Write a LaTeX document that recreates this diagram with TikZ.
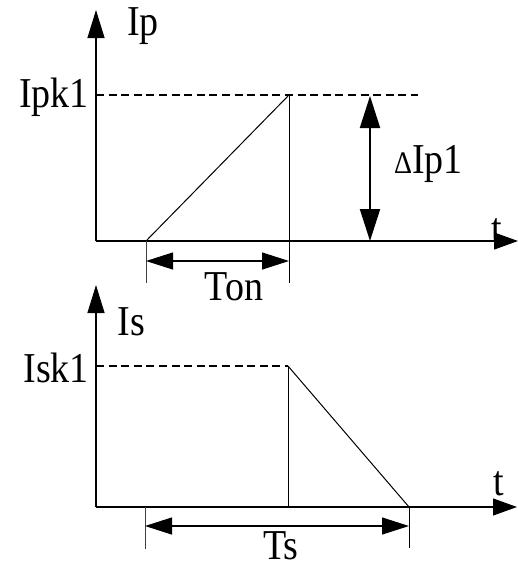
\documentclass[tikz,border=0pt]{standalone}
\usepackage{fontspec}
\setmainfont{Liberation Serif}
\usetikzlibrary{arrows.meta}
\newcommand{\lbl}[1]{\scalebox{1}[1.12]{#1}}
\begin{document}
\begin{tikzpicture}[x=0.5pt,y=-0.5pt,
  every node/.style={inner sep=0pt,outer sep=0pt,font=\fontsize{19}{21}\selectfont},
  axisline/.style={line width=0.6pt},
  yaxisarrow/.style={axisline,-{Triangle[length=14pt,width=8.5pt]}},
  xaxisarrow/.style={axisline,-{Triangle[length=12pt,width=8.5pt]}},
  curve/.style={line width=0.5pt},
  levelline/.style={line width=0.6pt,dash pattern=on 4pt off 2.3pt},
  tickline/.style={line width=0.5pt,black!75},
  dimarrow/.style={line width=0.6pt,{Triangle[length=13.5pt,width=8.5pt]}-{Triangle[length=13.5pt,width=8.5pt]}},
  bigarrow/.style={line width=1pt,{Triangle[length=16pt,width=10pt]}-{Triangle[length=16pt,width=10pt]}}]
\useasboundingbox (0,0) rectangle (518,569);
% ---------- top graph ----------
\coordinate (O1) at (96,241);
\coordinate (Y1) at (96,10);
\coordinate (X1) at (518,241);
\coordinate (R0) at (146,241);
\coordinate (R1) at (289,95);
\coordinate (R1b) at (289,283);
\coordinate (D1a) at (96,95);
\coordinate (D1b) at (418,95);
\coordinate (T0) at (146,283);
\coordinate (A1a) at (370,96);
\coordinate (A1b) at (370,241);
\coordinate (Ton1) at (146,261);
\coordinate (Ton2) at (289,261);
\draw[yaxisarrow] (O1) -- (Y1);
\draw[xaxisarrow] (O1) -- (X1);
\draw[curve] (R0) -- (R1);
\draw[curve] (R1) -- (R1b);
\draw[levelline] (D1a) -- (D1b);
\draw[tickline] (R0) -- (T0);
\draw[bigarrow] (A1a) -- (A1b);
\draw[dimarrow] (Ton1) -- (Ton2);
\node[anchor=base west] (Ip) at (127,35) {\lbl{Ip}};
\node[anchor=base east] (Ipk1) at (89,107) {\lbl{Ipk1}};
\node[anchor=base west] (dIp1) at (394,173) {\lbl{{\fontsize{14}{14}\selectfont Δ}Ip1}};
\node[anchor=base] (Ton) at (234,300) {\lbl{Ton}};
\node[anchor=base] (t1) at (497,242) {\lbl{t}};
% ---------- bottom graph ----------
\coordinate (O2) at (96,507);
\coordinate (Y2) at (96,285);
\coordinate (X2) at (517,507);
\coordinate (S0) at (288,507);
\coordinate (S1) at (288,366);
\coordinate (S2) at (409,507);
\coordinate (S2b) at (409,548);
\coordinate (D2a) at (96,366);
\coordinate (U0) at (145,507);
\coordinate (U1) at (145,549);
\coordinate (Ts1) at (145,526);
\coordinate (Ts2) at (409,526);
\draw[yaxisarrow] (O2) -- (Y2);
\draw[xaxisarrow] (O2) -- (X2);
\draw[levelline] (D2a) -- (S1);
\draw[curve] (S1) -- (S0);
\draw[curve] (S1) -- (S2);
\draw[curve] (S2) -- (S2b);
\draw[tickline] (U0) -- (U1);
\draw[dimarrow] (Ts1) -- (Ts2);
\node[anchor=base west] (Is) at (118,335) {\lbl{Is}};
\node[anchor=base east] (Isk1) at (89,382) {\lbl{Isk1}};
\node[anchor=base] (Ts) at (281,559) {\lbl{Ts}};
\node[anchor=base] (t2) at (499,495) {\lbl{t}};
\end{tikzpicture}
\end{document}
